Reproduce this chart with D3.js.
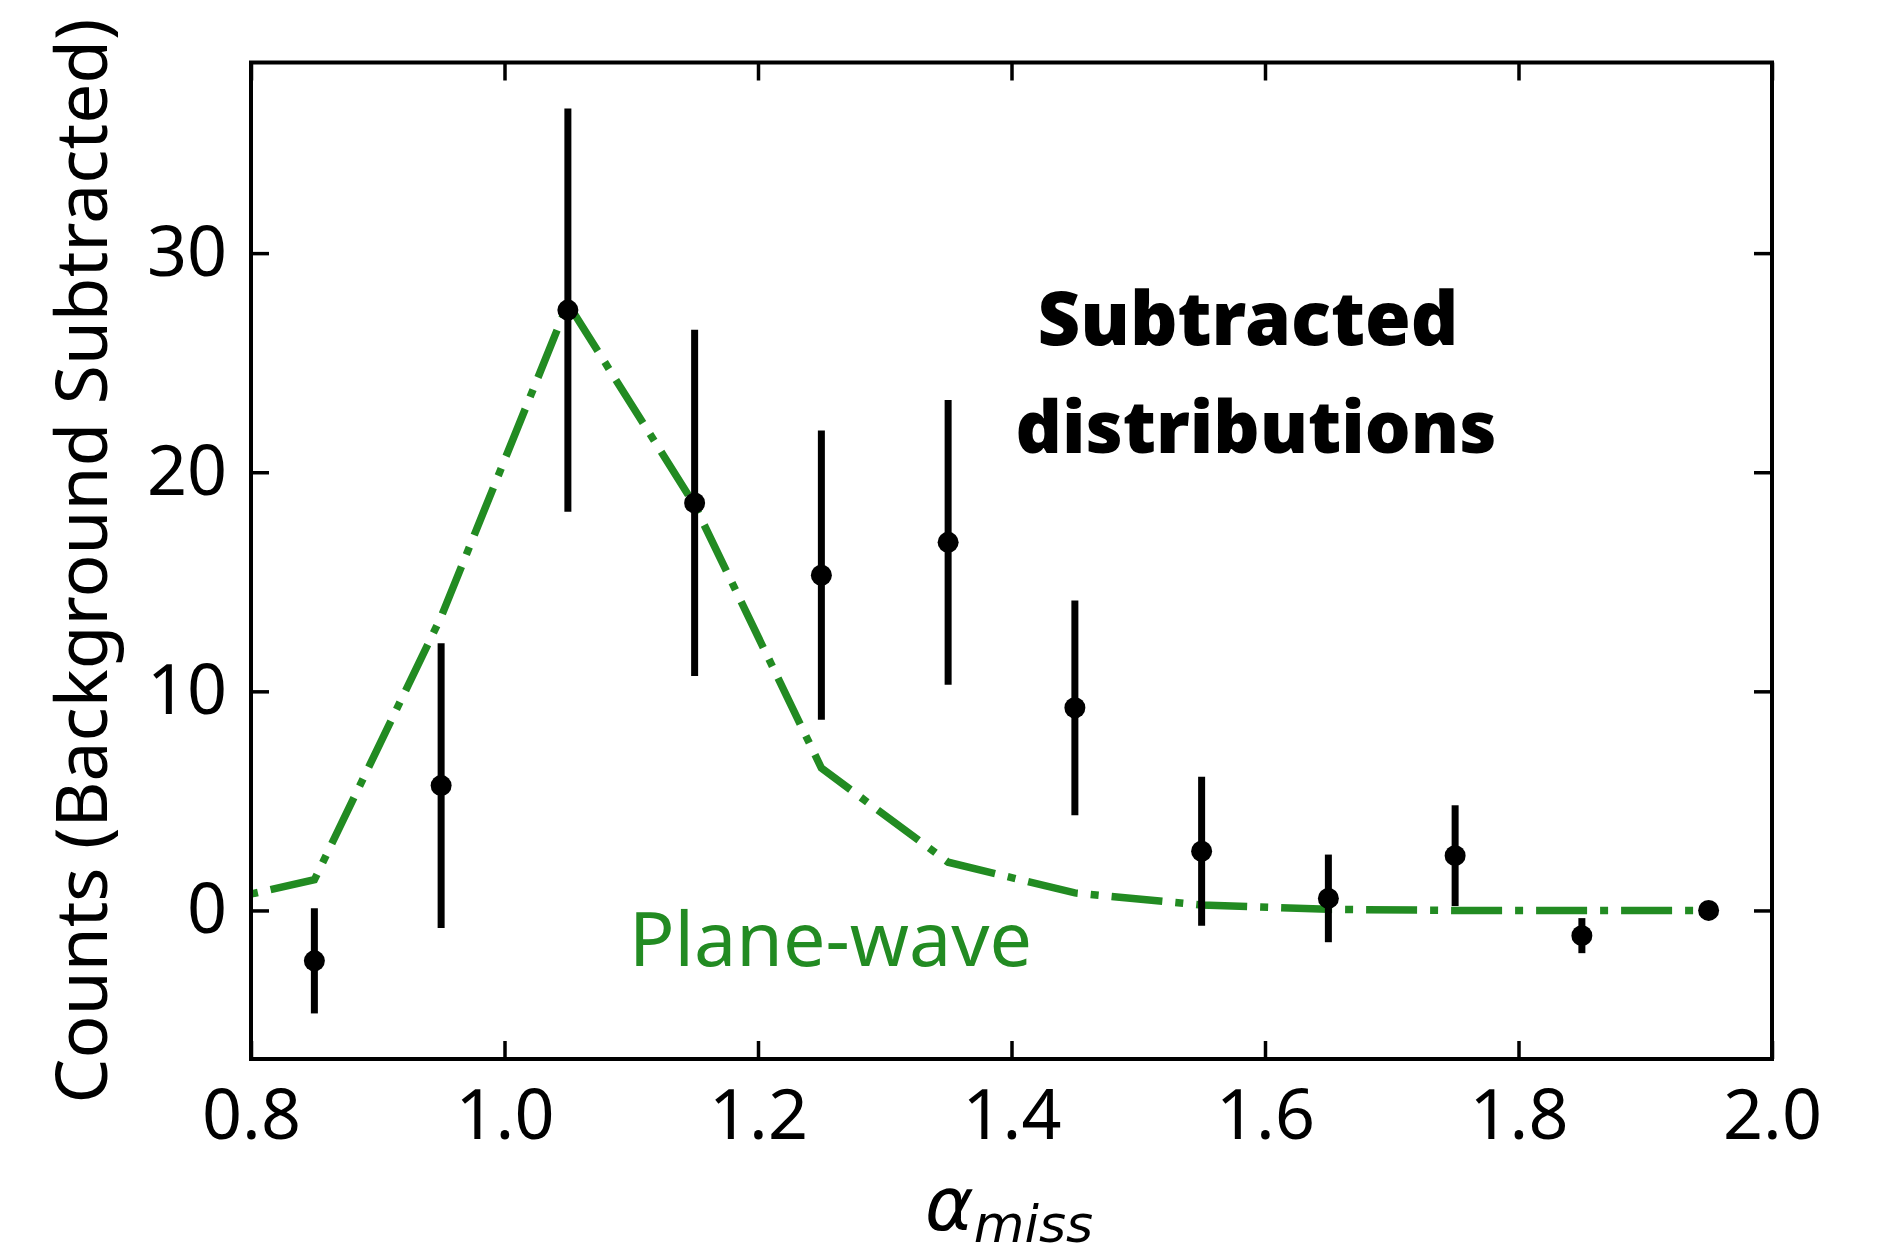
<!DOCTYPE html>
<html>
<head>
<meta charset="utf-8">
<script src="https://cdn.jsdelivr.net/npm/d3@7"></script>
<style>
  body { margin: 0; background: #fff; }
  svg { display: block; }
</style>
</head>
<body>
<div id="chart"></div>
<script>
// bin centres of alpha_miss and the subtracted counts
var alphaBins = [0.85, 0.95, 1.05, 1.15, 1.25, 1.35, 1.45, 1.55, 1.65, 1.75, 1.85, 1.95];
var counts    = [-2.3, 5.7, 27.4, 18.6, 15.3, 16.8, 9.25, 2.7, 0.55, 2.5, -1.15, 0.0];
var countErr  = [2.4, 6.5, 9.2, 7.9, 6.6, 6.5, 4.9, 3.4, 2.0, 2.3, 0.8, 0.0];

// plane-wave calculation (dash-dot curve)
var pwAlpha  = [0.75, 0.85, 0.95, 1.05, 1.15, 1.25, 1.35, 1.45, 1.55, 1.65, 1.75, 1.85, 1.95];
var pwCounts = [0.1, 1.4, 13.4, 27.7, 18.5, 6.5, 2.2, 0.8, 0.25, 0.05, 0.0, 0.0, 0.0];

var xTicks = [0.8, 1.0, 1.2, 1.4, 1.6, 1.8, 2.0];
var yTicks = [0, 10, 20, 30];

var W = 1880, H = 1254;
var margin = {top: 62.5, right: 108, bottom: 195, left: 251};
var width = W - margin.left - margin.right,
    height = H - margin.top - margin.bottom;

var green = "#228b22";
var font = "'Noto Sans', 'Open Sans', sans-serif";

var svg = d3.select("#chart")
  .append("svg")
    .attr("width", W)
    .attr("height", H);

var g = svg.append("g")
    .attr("transform", "translate(" + margin.left + "," + margin.top + ")");

var x = d3.scaleLinear().domain([0.8, 2.0]).range([0, width]);
var y = d3.scaleLinear().domain([-6.78, 38.7]).range([height, 0]);

g.append("defs").append("clipPath")
    .attr("id", "plotclip")
  .append("rect")
    .attr("width", width)
    .attr("height", height);

// ticks point inward on all four sides
var tickLen = 18;
function styleAxis(sel) {
  sel.select(".domain").remove();
  sel.selectAll(".tick line").attr("stroke", "#000").attr("stroke-width", 3.5);
  sel.selectAll("text").style("font-family", font).style("font-size", "70px").attr("fill", "#000");
}

g.append("g")
    .attr("transform", "translate(0," + height + ")")
    .call(d3.axisBottom(x).tickValues(xTicks).tickSize(-tickLen).tickPadding(30)
      .tickFormat(d3.format(".1f")))
    .call(styleAxis)
    .selectAll("text").attr("dy", "0.71em");

g.append("g")
    .call(d3.axisTop(x).tickValues(xTicks).tickSize(-tickLen).tickFormat(""))
    .call(styleAxis);

g.append("g")
    .call(d3.axisLeft(y).tickValues(yTicks).tickSize(-tickLen).tickPadding(24))
    .call(styleAxis);

g.append("g")
    .attr("transform", "translate(" + width + ",0)")
    .call(d3.axisRight(y).tickValues(yTicks).tickSize(-tickLen).tickFormat(""))
    .call(styleAxis);

// plane-wave curve
var line = d3.line()
    .x(function(d, i) { return x(pwAlpha[i]); })
    .y(function(d) { return y(d); });

g.append("path")
    .datum(pwCounts)
    .attr("clip-path", "url(#plotclip)")
    .attr("d", line)
    .attr("fill", "none")
    .attr("stroke", green)
    .attr("stroke-width", 7.5)
    .attr("stroke-dasharray", "51,13,8,13");

// error bars
g.selectAll(".err")
  .data(counts)
  .enter()
  .append("line")
    .attr("class", "err")
    .attr("x1", function(d, i) { return x(alphaBins[i]); })
    .attr("x2", function(d, i) { return x(alphaBins[i]); })
    .attr("y1", function(d, i) { return y(d - countErr[i]); })
    .attr("y2", function(d, i) { return y(d + countErr[i]); })
    .attr("stroke", "#000")
    .attr("stroke-width", 7);

// points
g.selectAll(".pt")
  .data(counts)
  .enter()
  .append("circle")
    .attr("class", "pt")
    .attr("cx", function(d, i) { return x(alphaBins[i]); })
    .attr("cy", function(d) { return y(d); })
    .attr("r", 10.5)
    .attr("fill", "#000");

// frame
g.append("rect")
    .attr("width", width)
    .attr("height", height)
    .attr("fill", "none")
    .attr("stroke", "#000")
    .attr("stroke-width", 4);

// scale a text's font size so it spans the wanted width
function fitWidth(sel, target) {
  var fs = parseFloat(sel.style("font-size"));
  var w = sel.node().getComputedTextLength();
  if (w > 0) sel.style("font-size", (fs * target / w) + "px");
  return sel;
}

// annotations
function boldLine(txt, cx, by, w) {
  var t = svg.append("text")
      .attr("x", cx)
      .attr("y", by)
      .attr("text-anchor", "middle")
      .style("font-family", font)
      .style("font-weight", 900)
      .style("font-size", "84px")
      .text(txt);
  fitWidth(t, w);
}
boldLine("Subtracted", 1248, 345, 421);
boldLine("distributions", 1256, 453, 481);

var pw = svg.append("text")
    .attr("x", 629)
    .attr("y", 966)
    .attr("fill", green)
    .style("font-family", font)
    .style("font-size", "80px")
    .text("Plane-wave");
fitWidth(pw, 403);

// y label
var ylab = svg.append("text")
    .attr("transform", "translate(107," + 561 + ") rotate(-90)")
    .attr("text-anchor", "middle")
    .style("font-family", font)
    .style("font-size", "76px")
    .text("Counts (Background Subtracted)");
fitWidth(ylab, 1085);

// x label: alpha with italic subscript
var xlab = svg.append("text")
    .attr("x", 925)
    .attr("y", 1230)
    .style("font-family", "'DejaVu Sans', sans-serif")
    .style("font-style", "italic")
    .style("font-size", "74px")
    .attr("fill", "#000");
xlab.append("tspan").text("α");
xlab.append("tspan")
    .attr("dy", 12)
    .style("font-size", "52px")
    .text("miss");
</script>
</body>
</html>
